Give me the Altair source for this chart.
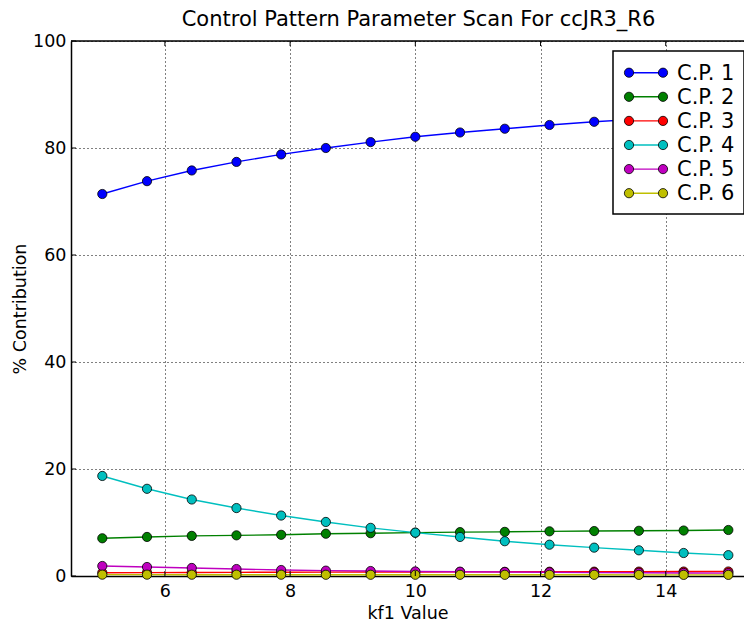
import altair as alt
import pandas as pd

# ---- data ----
kf1 = [5.0, 5.714, 6.429, 7.143, 7.857, 8.571, 9.286, 10.0,
       10.714, 11.429, 12.143, 12.857, 13.571, 14.286, 15.0]
cp1 = [71.4, 73.8, 75.8, 77.4, 78.8, 80.0, 81.1, 82.1, 82.9, 83.6, 84.3, 84.9, 85.4, 85.9, 86.3]
cp2 = [7.05, 7.3, 7.5, 7.6, 7.7, 7.9, 8.0, 8.1, 8.2, 8.25, 8.35, 8.4, 8.45, 8.5, 8.6]
cp3 = [0.62, 0.64, 0.66, 0.68, 0.70, 0.72, 0.74, 0.76, 0.77, 0.78, 0.80, 0.81, 0.82, 0.83, 0.84]
cp4 = [18.7, 16.3, 14.3, 12.7, 11.3, 10.1, 9.0, 8.1, 7.3, 6.5, 5.85, 5.3, 4.8, 4.3, 3.9]
cp5 = [1.87, 1.68, 1.5, 1.3, 1.12, 1.0, 0.93, 0.85, 0.8, 0.74, 0.69, 0.64, 0.6, 0.57, 0.54]
cp6 = [0.25, 0.25, 0.24, 0.24, 0.24, 0.23, 0.23, 0.23, 0.22, 0.22, 0.22, 0.22, 0.21, 0.21, 0.21]

names = ["C.P. 1", "C.P. 2", "C.P. 3", "C.P. 4", "C.P. 5", "C.P. 6"]
series = [cp1, cp2, cp3, cp4, cp5, cp6]
colors = ["#0000ff", "#008000", "#ff0000", "#00bfbf", "#bf00bf", "#bfbf00"]

x_ticks = [6, 8, 10, 12, 14]
y_ticks = [0, 20, 40, 60, 80, 100]

# ---- layout ----
W, H = 673, 535
FONT = "DejaVu Sans"

xscale = alt.Scale(domain=[4.5, 15.25], nice=False, zero=False)
yscale = alt.Scale(domain=[0, 100], nice=False)

xenc = alt.X("kf1:Q", scale=xscale,
             axis=alt.Axis(values=x_ticks, format="d", title="kf1 Value",
                           grid=True, gridDash=[1, 3], gridColor="black", gridOpacity=1, gridWidth=1,
                           ticks=False, domainColor="black", domainWidth=1.5,
                           labelFont=FONT, labelFontSize=17.5, labelColor="black", labelPadding=6,
                           titleFont=FONT, titleFontSize=17.5, titleFontWeight="normal",
                           titleColor="black", titlePadding=5))
yenc = alt.Y("val:Q", scale=yscale,
             axis=alt.Axis(values=y_ticks, title="% Contribution",
                           grid=True, gridDash=[1, 3], gridColor="black", gridOpacity=1, gridWidth=1,
                           ticks=False, domainColor="black", domainWidth=1.5,
                           labelFont=FONT, labelFontSize=17.5, labelColor="black", labelPadding=5,
                           titleFont=FONT, titleFontSize=17.5, titleFontWeight="normal",
                           titleColor="black", titlePadding=3))

cscale = alt.Scale(domain=names, range=colors)

layers = []
for name, vals in zip(names, series):
    df = pd.DataFrame({"kf1": kf1, "val": vals, "cp": name})
    base = alt.Chart(df)
    layers.append(base.mark_line(strokeWidth=1.4).encode(
        x=xenc, y=yenc, color=alt.Color("cp:N", scale=cscale, legend=None)))
    layers.append(base.mark_point(filled=True, size=85, opacity=1, stroke="black",
                                  strokeWidth=0.8).encode(
        x=xenc, y=yenc, fill=alt.Fill("cp:N", scale=cscale, legend=None)))

# inward ticks
ydf = pd.DataFrame({"val": y_ticks})
xdf = pd.DataFrame({"kf1": x_ticks})
layers.append(alt.Chart(ydf).mark_rule(color="black", strokeWidth=1).encode(
    y=alt.Y("val:Q", scale=yscale), x=alt.value(0), x2=alt.value(5)))
layers.append(alt.Chart(xdf).mark_rule(color="black", strokeWidth=1).encode(
    x=alt.X("kf1:Q", scale=xscale), y=alt.value(H), y2=alt.value(H - 5)))
layers.append(alt.Chart(xdf).mark_rule(color="black", strokeWidth=1).encode(
    x=alt.X("kf1:Q", scale=xscale), y=alt.value(0), y2=alt.value(5)))

one = pd.DataFrame({"a": [0]})
# top spine
layers.append(alt.Chart(one).mark_rule(color="black", strokeWidth=1.5).encode(
    x=alt.value(0), x2=alt.value(W), y=alt.value(0)))

# legend
LX0, LX1, LY0, LY1 = 542, 673, 10, 173
layers.append(alt.Chart(one).mark_rect(fill="white", stroke="black", strokeWidth=1.5).encode(
    x=alt.value(LX0), x2=alt.value(LX1), y=alt.value(LY0), y2=alt.value(LY1)))
for i, (name, col) in enumerate(zip(names, colors)):
    yy = 31.7 + 24.1 * i
    layers.append(alt.Chart(one).mark_rule(color=col, strokeWidth=1.4).encode(
        x=alt.value(558), x2=alt.value(592), y=alt.value(yy)))
    for xx in (558, 592):
        layers.append(alt.Chart(one).mark_point(filled=True, size=85, opacity=1, fill=col,
                                                stroke="black", strokeWidth=0.8).encode(
            x=alt.value(xx), y=alt.value(yy)))
    layers.append(alt.Chart(one).mark_text(text=name, font=FONT, fontSize=21, align="left",
                                           baseline="middle", color="black").encode(
        x=alt.value(606), y=alt.value(yy + 1)))

chart = alt.layer(*layers).properties(
    width=W, height=H,
    title=alt.TitleParams("Control Pattern Parameter Scan For ccJR3_R6", font=FONT, fontSize=21,
                          fontWeight="normal", color="black", anchor="middle", offset=2, dx=11),
    autosize=alt.AutoSizeParams(type="none"),
    padding={"left": 63, "top": 33, "right": 0, "bottom": 50},
).configure_view(stroke=None).configure(background="white")

chart.save("out.html", embed_options={"renderer": "svg", "actions": False})
